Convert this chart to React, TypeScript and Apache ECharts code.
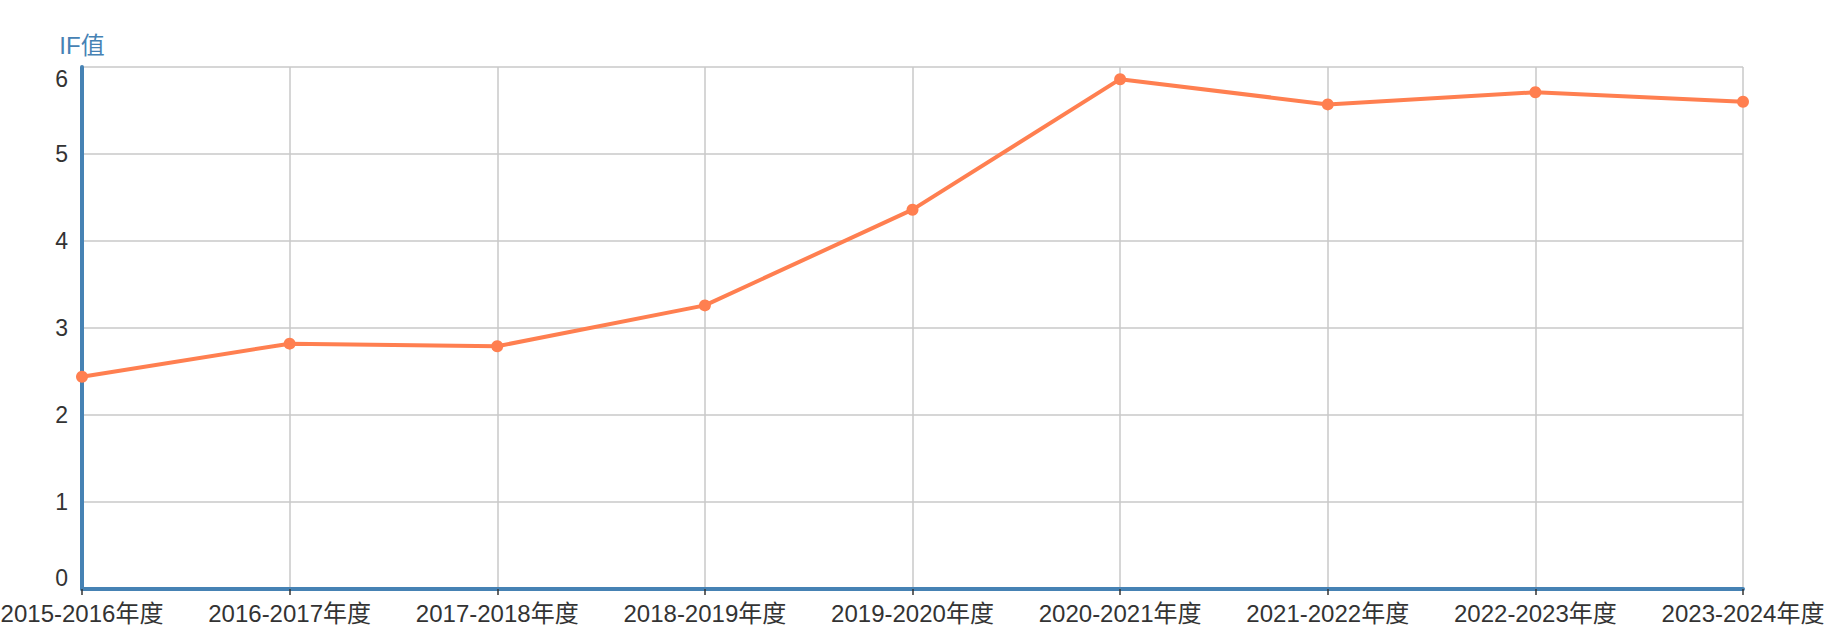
import React, { useEffect, useRef } from "react";
import * as echarts from "echarts";

const categories = [
  "2015-2016年度",
  "2016-2017年度",
  "2017-2018年度",
  "2018-2019年度",
  "2019-2020年度",
  "2020-2021年度",
  "2021-2022年度",
  "2022-2023年度",
  "2023-2024年度",
];
const ifValues = [2.44, 2.82, 2.79, 3.26, 4.36, 5.86, 5.57, 5.71, 5.6];
const yAxisName = "IF值";

export default function App() {
  const ref = useRef<HTMLDivElement>(null);
  useEffect(() => {
    if (!ref.current) return;
    const chart = echarts.init(ref.current, null, { renderer: "svg" });
    chart.setOption({
      animation: false,
      grid: { left: 82, right: 94, top: 67, bottom: 49, containLabel: false, outerBoundsMode: "none" },
      xAxis: {
        type: "category",
        data: categories,
        boundaryGap: false,
        axisLine: { show: true, lineStyle: { color: "#4682B4", width: 4 } },
        axisTick: { show: true, alignWithLabel: true, length: 6, lineStyle: { color: "#333", width: 1.5 } },
        axisLabel: { color: "#333", fontSize: 24, margin: 12, interval: 0, fontFamily: "Liberation Sans, Noto Sans CJK SC, sans-serif" },
        splitLine: { show: true, lineStyle: { color: "#c8c8c8", width: 1.5 } },
      },
      yAxis: {
        type: "value",
        min: 0,
        max: 6,
        interval: 1,
        name: yAxisName,
        nameLocation: "end",
        nameGap: 10,
        nameTextStyle: { color: "#4682B4", fontSize: 24, fontFamily: "Liberation Sans, Noto Sans CJK SC, sans-serif" },
        axisLine: { show: true, lineStyle: { color: "#4682B4", width: 4 } },
        axisTick: { show: false },
        axisLabel: {
          color: "#333",
          fontSize: 23,
          margin: 14,
          fontFamily: "Liberation Sans, sans-serif",
          verticalAlignMinLabel: "bottom",
          verticalAlignMaxLabel: "top",
        },
        splitLine: { show: true, lineStyle: { color: "#c8c8c8", width: 1.5 } },
      },
      series: [
        {
          type: "line",
          data: ifValues,
          symbol: "circle",
          symbolSize: 12,
          lineStyle: { color: "#FF7F50", width: 4 },
          itemStyle: { color: "#FF7F50" },
        },
      ],
    });
    return () => chart.dispose();
  }, []);
  return (
    <div
      ref={ref}
      style={{ position: "absolute", left: 0, top: 0, width: 1837, height: 638 }}
    />
  );
}
